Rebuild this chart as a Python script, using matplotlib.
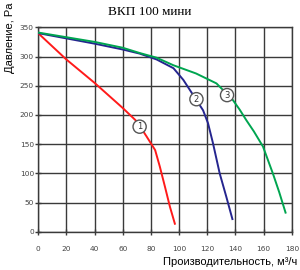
import matplotlib.pyplot as plt

# curve 1 (red)
x1 = [0, 20, 40, 60, 70, 77, 83, 86.3, 90, 93.5, 97]
y1 = [340, 295, 255, 212, 189, 163, 140, 112, 77, 43, 14]
# curve 2 (blue)
x2 = [0, 20, 40, 60, 72, 84, 96, 103, 110, 117, 120.5, 124, 128.8, 133.5, 137.8]
y2 = [340, 331, 322, 312, 305, 295, 280, 260, 234, 208, 186, 152, 100, 60, 22]
# curve 3 (green)
x3 = [0, 20, 40, 60, 72, 84, 96, 112, 126.5, 138, 143, 147.7, 153, 159.5, 166.5, 171, 175.5]
y3 = [341, 333, 325, 315, 306, 298, 285, 271, 254, 226, 209, 191, 172, 146, 100, 68, 33]

labels = ['1', '2', '3']
label_pos = [(72, 180), (112.3, 227), (134, 234)]

fig = plt.figure(figsize=(3.0, 2.7), dpi=100)
ax = fig.add_axes([0.127, 0.141, 0.846, 0.758])

grid_c = '#3a3a3a'
ax.plot(x1, y1, color='#ff1a1a', lw=1.4, zorder=3)
ax.plot(x2, y2, color='#25258f', lw=1.4, zorder=3)
ax.plot(x3, y3, color='#00a550', lw=1.4, zorder=3)

for t, (px, py) in zip(labels, label_pos):
    ax.text(px, py, t, fontsize=6, ha='center', va='center', color='#333333',
            zorder=5,
            bbox=dict(boxstyle='circle,pad=0.25', fc='white', ec='#555555', lw=1))

ax.set_xlim(0, 180)
ax.set_ylim(0, 350)
ax.set_xticks(range(0, 181, 20))
ax.set_yticks(range(0, 351, 50))
ax.grid(True, color=grid_c, lw=1)
ax.set_axisbelow(True)
for s in ax.spines.values():
    s.set_color(grid_c)
    s.set_linewidth(1)
ax.tick_params(direction='inout', length=4, width=1, color=grid_c,
               labelsize=5.3, labelcolor='#444444')
ax.tick_params(axis='y', pad=1)
ax.tick_params(axis='x', pad=8)

fig.text(0.5, 0.955, 'ВКП 100 мини', family='Liberation Serif', fontsize=9.5,
         ha='center', va='center')
fig.text(0.033, 0.99, 'Давление, Pa', family='Liberation Sans', fontsize=8,
         rotation=90, ha='center', va='top')
fig.text(0.99, 0.03, 'Производительность, м³/ч', family='Liberation Sans',
         fontsize=8, ha='right', va='center')

plt.savefig('out.png', dpi=100)
